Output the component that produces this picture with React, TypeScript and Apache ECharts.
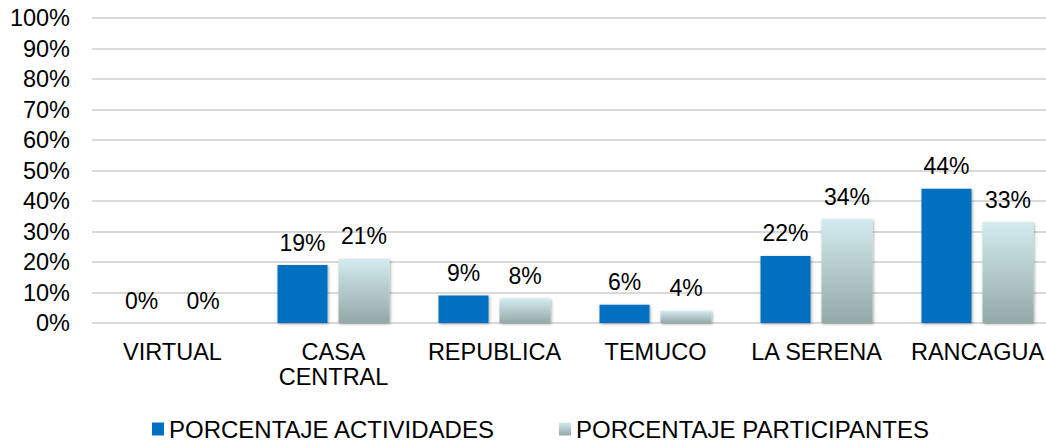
import React, { useEffect, useRef } from "react";
import * as echarts from "echarts";

const categories = ["VIRTUAL", "CASA\nCENTRAL", "REPUBLICA", "TEMUCO", "LA SERENA", "RANCAGUA"];
const actividades = [0, 19, 9, 6, 22, 44];
const participantes = [0, 21, 8, 4, 34, 33];
const seriesNames = ["PORCENTAJE ACTIVIDADES", "PORCENTAJE PARTICIPANTES"];

const FONT = "'Liberation Sans', Arial, sans-serif";

export default function App() {
  const ref = useRef<HTMLDivElement>(null);
  useEffect(() => {
    if (!ref.current) return;
    const chart = echarts.init(ref.current, null, { renderer: "svg" });
    const labelStyle = {
      show: true,
      position: "top" as const,
      distance: 11,
      formatter: "{c}%",
      color: "#000",
      fontSize: 23,
      fontFamily: FONT,
    };
    const shadow = {
      shadowBlur: 3,
      shadowColor: "rgba(0,0,0,0.35)",
      shadowOffsetX: 1,
      shadowOffsetY: 1,
    };
    const legendText = { fontSize: 24, color: "#000", fontFamily: FONT };
    chart.setOption({
      animation: false,
      textStyle: { fontFamily: FONT },
      grid: { left: 92, width: 966, top: 18, bottom: 120, containLabel: false },
      legend: [
        {
          left: 147,
          top: 412,
          itemWidth: 12,
          itemHeight: 13,
          itemGap: 4,
          icon: "rect",
          textStyle: legendText,
          data: [seriesNames[0]],
        },
        {
          left: 554,
          top: 412,
          itemWidth: 12,
          itemHeight: 13,
          itemGap: 4,
          icon: "rect",
          textStyle: legendText,
          data: [seriesNames[1]],
        },
      ],
      xAxis: {
        type: "category",
        data: categories,
        axisLine: { show: false },
        axisTick: { show: false },
        axisLabel: {
          color: "#000",
          fontSize: 23.5,
          fontFamily: FONT,
          margin: 16,
          lineHeight: 25,
          interval: 0,
        },
      },
      yAxis: {
        type: "value",
        min: 0,
        max: 100,
        interval: 10,
        axisLine: { show: false },
        axisTick: { show: false },
        axisLabel: {
          formatter: "{value}%",
          color: "#000",
          fontSize: 23.5,
          fontFamily: FONT,
          margin: 22,
        },
        splitLine: { lineStyle: { color: "#D9D9D9", width: 2 } },
      },
      series: [
        {
          name: seriesNames[0],
          type: "bar",
          data: actividades,
          barWidth: 50,
          barGap: "22%",
          itemStyle: { color: "#0070C0", ...shadow },
          label: labelStyle,
        },
        {
          name: seriesNames[1],
          type: "bar",
          data: participantes,
          barWidth: 51,
          itemStyle: {
            color: new echarts.graphic.LinearGradient(0, 0, 0, 1, [
              { offset: 0, color: "#D3EBEF" },
              { offset: 1, color: "#93A8A8" },
            ]),
            ...shadow,
          },
          label: labelStyle,
        },
      ],
    });
    return () => chart.dispose();
  }, []);
  return (
    <div
      style={{
        position: "fixed",
        left: 0,
        top: 0,
        width: 1046,
        height: 443,
        overflow: "hidden",
        background: "#fff",
      }}
    >
      <div ref={ref} style={{ width: 1070, height: 443 }} />
    </div>
  );
}
